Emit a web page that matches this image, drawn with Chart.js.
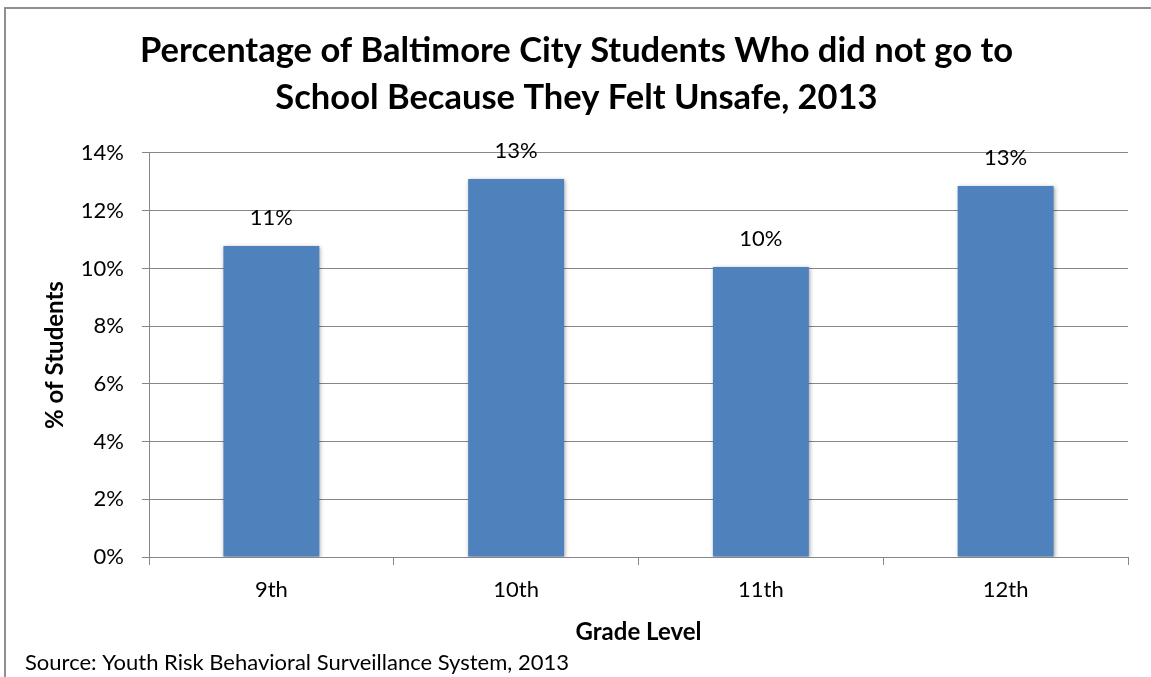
<!DOCTYPE html>
<html>
<head>
<meta charset="utf-8">
<script src="https://cdn.jsdelivr.net/npm/chart.js@4.4.1/dist/chart.umd.min.js"></script>
<style>
  html, body { margin: 0; padding: 0; background: #fff; overflow: hidden; }
  #wrap { position: relative; width: 1151px; height: 677px; }
  #frame {
    position: absolute; left: 4px; top: 7px; width: 1200px; height: 700px;
    border-left: 2px solid #8f8f8f; border-top: 2px solid #8f8f8f;
    pointer-events: none;
  }
</style>
</head>
<body>
<div id="wrap">
  <canvas id="chart" width="1151" height="677"></canvas>
  <div id="frame"></div>
</div>
<script>
const titleLines = ["Percentage of Baltimore City Students Who did not go to", "School Because They Felt Unsafe, 2013"];
const grades = ["9th", "10th", "11th", "12th"];
const pctUnsafe = [10.78, 13.1, 10.05, 12.86];
const yTicks = [0, 2, 4, 6, 8, 10, 12, 14];
const sourceNote = "Source: Youth Risk Behavioral Surveillance System, 2013";

const FONT = "Lato, 'Open Sans', sans-serif";
const GRID = "#868686";

// soft drop shadow under the bars, then value labels on top
const barDecor = {
  id: "barDecor",
  beforeDatasetsDraw(chart) {
    const ctx = chart.ctx;
    ctx.save();
    ctx.shadowColor = "rgba(0,0,0,0.35)";
    ctx.shadowBlur = 4;
    ctx.shadowOffsetX = 1;
    ctx.shadowOffsetY = 1;
  },
  afterDatasetsDraw(chart) {
    const ctx = chart.ctx;
    ctx.restore();
    const meta = chart.getDatasetMeta(0);
    ctx.save();
    ctx.font = "22px " + FONT;
    ctx.fillStyle = "#000";
    ctx.textAlign = "center";
    ctx.textBaseline = "middle";
    meta.data.forEach((bar, i) => {
      const v = chart.data.datasets[0].data[i];
      ctx.fillText(Math.round(v) + "%", bar.x, bar.y - 28);
    });
    ctx.restore();
  }
};

new Chart(document.getElementById("chart"), {
  type: "bar",
  data: {
    labels: grades,
    datasets: [{
      data: pctUnsafe,
      backgroundColor: "#4F81BD",
      borderWidth: 0,
      categoryPercentage: 1,
      barPercentage: 0.392
    }]
  },
  options: {
    responsive: false,
    animation: false,
    layout: { padding: { left: 25, right: 23, top: 0, bottom: 0 } },
    plugins: {
      legend: { display: false },
      tooltip: { enabled: false },
      title: {
        display: true,
        text: titleLines,
        color: "#000",
        font: { family: FONT, size: 34.5, weight: "bold", lineHeight: 1.362 },
        padding: { top: 27, bottom: 32 }
      },
      subtitle: {
        display: true,
        text: sourceNote,
        position: "bottom",
        align: "start",
        color: "#000",
        font: { family: FONT, size: 22, lineHeight: 1.2 },
        padding: { top: 0, bottom: 1 }
      }
    },
    scales: {
      x: {
        afterFit(scale) { scale.height = 92.6; },
        grid: {
          offset: true,
          drawOnChartArea: false,
          drawTicks: true,
          tickLength: 8,
          color: GRID
        },
        border: { display: true, color: GRID, width: 1 },
        ticks: { color: "#000", font: { family: FONT, size: 22 }, padding: 12 },
        title: {
          display: true,
          text: "Grade Level",
          color: "#000",
          font: { family: FONT, size: 24, weight: "bold", lineHeight: 1.2 },
          padding: { top: 0, bottom: 3 }
        }
      },
      y: {
        min: 0,
        max: 14,
        afterFit(scale) { scale.width = 124; },
        afterBuildTicks(scale) { scale.ticks = yTicks.map(v => ({ value: v })); },
        grid: { color: GRID, tickLength: 7, drawTicks: true },
        border: { display: true, color: GRID, width: 1 },
        ticks: {
          color: "#000",
          font: { family: FONT, size: 22 },
          padding: 18,
          callback: v => v + "%"
        },
        title: {
          display: true,
          text: "% of Students",
          color: "#000",
          font: { family: FONT, size: 24, weight: "bold", lineHeight: 1.2 },
          padding: { top: 16, bottom: 0 }
        }
      }
    }
  },
  plugins: [barDecor]
});
</script>
</body>
</html>
